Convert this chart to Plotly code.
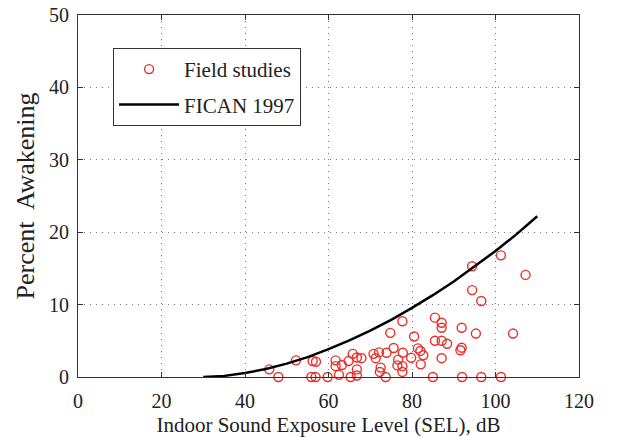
import plotly.graph_objects as go

# Field studies (indoor SEL dB, percent awakening)
field_sel = [45.8, 48.0, 52.2, 56.2, 57.0, 55.9, 56.9, 59.8, 61.7, 61.7, 62.5, 63.2,
             64.8, 65.8, 65.3, 66.8, 66.8, 66.8, 67.9, 70.8, 71.3, 72.1, 72.5, 72.3,
             73.7, 73.9, 74.8, 75.6, 76.5, 76.7, 77.7, 77.8, 77.7, 77.7, 79.8, 80.5,
             81.4, 82.0, 82.1, 82.7, 85.0, 85.5, 85.5, 87.1, 87.1, 87.1, 87.1, 88.4,
             91.9, 91.6, 91.9, 92.0, 94.4, 94.4, 95.3, 96.6, 96.6, 101.3, 101.3, 104.2,
             107.2]
field_pct = [1.06, 0.0, 2.3, 2.2, 2.1, 0.0, 0.0, 0.0, 2.3, 1.5, 0.3, 1.65,
             2.2, 3.2, 0.0, 2.7, 1.05, 0.2, 2.6, 3.2, 2.6, 3.4, 1.3, 0.7,
             0.0, 3.35, 6.1, 4.0, 1.6, 2.4, 7.7, 3.35, 1.5, 0.7, 2.65, 5.6,
             3.95, 3.6, 1.75, 3.0, 0.0, 8.2, 5.0, 7.5, 6.8, 5.0, 2.6, 4.6,
             6.8, 3.7, 4.05, 0.0, 15.3, 12.0, 6.0, 10.5, 0.0, 16.8, 0.0, 6.0,
             14.1]

# FICAN 1997 curve
fican_sel = [30, 35, 40, 45, 50, 55, 60, 65, 70, 75, 80, 85, 90, 95, 100, 105, 110]
fican_pct = [0.0, 0.15, 0.55, 1.1, 1.85, 2.75, 3.85, 5.05, 6.4, 7.9, 9.55, 11.3,
             13.2, 15.3, 17.4, 19.7, 22.2]

x_ticks = [0, 20, 40, 60, 80, 100, 120]
y_ticks = [0, 10, 20, 30, 40, 50]

FONT = "Liberation Serif"

fig = go.Figure()
fig.add_trace(go.Scatter(
    x=field_sel, y=field_pct, mode="markers", name="Field studies",
    marker=dict(symbol="circle-open", size=9, color="#e8302a",
                line=dict(width=1.4, color="#e8302a")),
    cliponaxis=False, legendgroup="a",
))
fig.add_trace(go.Scatter(
    x=fican_sel, y=fican_pct, mode="lines", name="FICAN 1997",
    line=dict(color="black", width=2.5), legendgroup="b",
))

axis_common = dict(
    showline=True, linecolor="#333", linewidth=1, mirror="ticks",
    ticks="inside", ticklen=5, tickcolor="#333",
    showgrid=True, gridcolor="#777", griddash="1px,5px", gridwidth=1,
    zeroline=False, tickfont=dict(family=FONT, size=20, color="#222"),
    automargin=False,
)

fig.update_xaxes(range=[0, 120], tickvals=x_ticks, ticklabelstandoff=6,
                 title=dict(text="Indoor Sound Exposure Level (SEL), dB",
                            font=dict(family=FONT, size=21, color="#222"), standoff=8),
                 **axis_common)
fig.update_yaxes(range=[0, 50], tickvals=y_ticks, ticklabelstandoff=4,
                 title=dict(text="Percent  Awakening",
                            font=dict(family=FONT, size=26, color="#222"), standoff=6),
                 **axis_common)

fig.update_layout(
    width=619, height=437,
    margin=dict(l=78, r=40, t=15, b=60),
    plot_bgcolor="white", paper_bgcolor="white",
    showlegend=True,
    legend=dict(x=0.07, y=0.909, xanchor="left", yanchor="top",
                bgcolor="white", bordercolor="#333", borderwidth=1,
                font=dict(family=FONT, size=21, color="#222"),
                traceorder="grouped", tracegroupgap=5,
                itemwidth=60),
)

fig.write_html("out.html", config={"displayModeBar": False},
               post_script="document.body.style.margin='0';document.body.style.overflow='hidden';")
